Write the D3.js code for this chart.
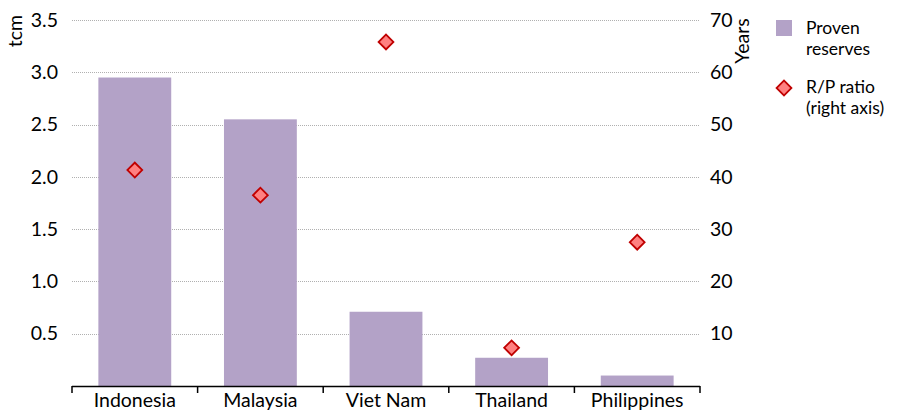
<!DOCTYPE html>
<html>
<head>
<meta charset="utf-8">
<script src="https://cdn.jsdelivr.net/npm/d3@7"></script>
<style>
  body { margin: 0; background: #fff; }
  text { font-family: Lato, "Liberation Sans", sans-serif; fill: #000; }
  .grid line { stroke: #b0b0b0; stroke-dasharray: 1 1; }
</style>
</head>
<body>
<svg id="chart" width="897" height="412"></svg>
<script>
// chart data
const countries = ['Indonesia', 'Malaysia', 'Viet Nam', 'Thailand', 'Philippines'];
const reserves = [2.95, 2.55, 0.71, 0.27, 0.10];   // tcm, left axis
const rpRatio = [41.3, 36.5, 65.8, 7.3, 27.5];     // years, right axis
const leftTicks = [0.5, 1.0, 1.5, 2.0, 2.5, 3.0, 3.5];
const rightTicks = [10, 20, 30, 40, 50, 60, 70];

const svg = d3.select('#chart');
const plotLeft = 72, plotRight = 700, plotTop = 20, plotBottom = 386;
const fontSize = '19.5px';

// scales
let x = d3.scaleBand().domain(countries).range([plotLeft, plotRight]).paddingInner(0.42).paddingOuter(0.21);
let yL = d3.scaleLinear().domain([0, 3.5]).range([plotBottom, plotTop]);
let yR = d3.scaleLinear().domain([0, 70]).range([plotBottom, plotTop]);

// dotted gridlines
svg.append('g').attr('class', 'grid')
    .selectAll('line').data(leftTicks).enter()
    .append('line')
    .attr('x1', plotLeft).attr('x2', plotRight - 1)
    .attr('y1', d => Math.round(yL(d)) + 0.5)
    .attr('y2', d => Math.round(yL(d)) + 0.5);

// bars
svg.append('g').selectAll('rect').data(countries).enter()
    .append('rect')
    .attr('x', d => x(d))
    .attr('width', x.bandwidth())
    .attr('y', (d, i) => yL(reserves[i]))
    .attr('height', (d, i) => plotBottom - yL(reserves[i]))
    .attr('fill', '#b3a2c7');

// left axis labels
let axL = svg.append('g')
    .attr('transform', `translate(${plotLeft},0)`)
    .call(d3.axisLeft(yL).tickValues(leftTicks).tickFormat(d3.format('.1f')).tickSize(0).tickPadding(14));
axL.select('.domain').remove();
axL.selectAll('text').style('font-size', fontSize).style('font-family', 'Lato, sans-serif');

// right axis labels
let axR = svg.append('g')
    .attr('transform', `translate(${plotRight},0)`)
    .call(d3.axisRight(yR).tickValues(rightTicks).tickSize(0).tickPadding(10));
axR.select('.domain').remove();
axR.selectAll('text').style('font-size', fontSize).style('font-family', 'Lato, sans-serif');

// bottom axis with ticks at the band edges
let edges = countries.map(d => x(d) - x.step() * x.paddingInner() / 2);
edges.push(plotRight);
let axB = svg.append('g');
axB.append('line')
    .attr('x1', plotLeft).attr('x2', plotRight)
    .attr('y1', plotBottom + 0.5).attr('y2', plotBottom + 0.5)
    .attr('stroke', '#000').attr('stroke-width', 1.5);
axB.selectAll('.tk').data(edges).enter()
    .append('line')
    .attr('x1', d => d).attr('x2', d => d)
    .attr('y1', plotBottom).attr('y2', plotBottom + 7)
    .attr('stroke', '#000').attr('stroke-width', 1.5);
axB.selectAll('text').data(countries).enter()
    .append('text')
    .attr('x', d => x(d) + x.bandwidth() / 2)
    .attr('y', 407)
    .attr('text-anchor', 'middle')
    .style('font-size', fontSize)
    .text(d => d);

// R/P ratio diamonds
const diamond = d3.symbol().type(d3.symbolSquare).size(110);
svg.append('g').selectAll('path').data(countries).enter()
    .append('path')
    .attr('d', diamond)
    .attr('transform', (d, i) => `translate(${x(d) + x.bandwidth() / 2},${yR(rpRatio[i])}) rotate(45)`)
    .attr('fill', '#ff8080')
    .attr('stroke', '#c00000')
    .attr('stroke-width', 1.8);

// axis titles
svg.append('text')
    .attr('transform', 'translate(22,31) rotate(-90)')
    .attr('text-anchor', 'middle')
    .style('font-size', fontSize)
    .text('tcm');
svg.append('text')
    .attr('transform', 'translate(749,41) rotate(-90)')
    .attr('text-anchor', 'middle')
    .style('font-size', fontSize)
    .text('Years');

// legend
let legend = svg.append('g');
legend.append('rect')
    .attr('x', 776).attr('y', 20).attr('width', 16).attr('height', 16)
    .attr('fill', '#b3a2c7');
legend.append('path')
    .attr('d', diamond)
    .attr('transform', 'translate(784,88) rotate(45)')
    .attr('fill', '#ff8080')
    .attr('stroke', '#c00000')
    .attr('stroke-width', 1.8);
const legendLines = [['Proven', 34], ['reserves', 55], ['R/P ratio', 93], ['(right axis)', 114]];
legend.selectAll('text').data(legendLines).enter()
    .append('text')
    .attr('x', 806)
    .attr('y', d => d[1])
    .style('font-size', '17.5px')
    .text(d => d[0]);
</script>
</body>
</html>
